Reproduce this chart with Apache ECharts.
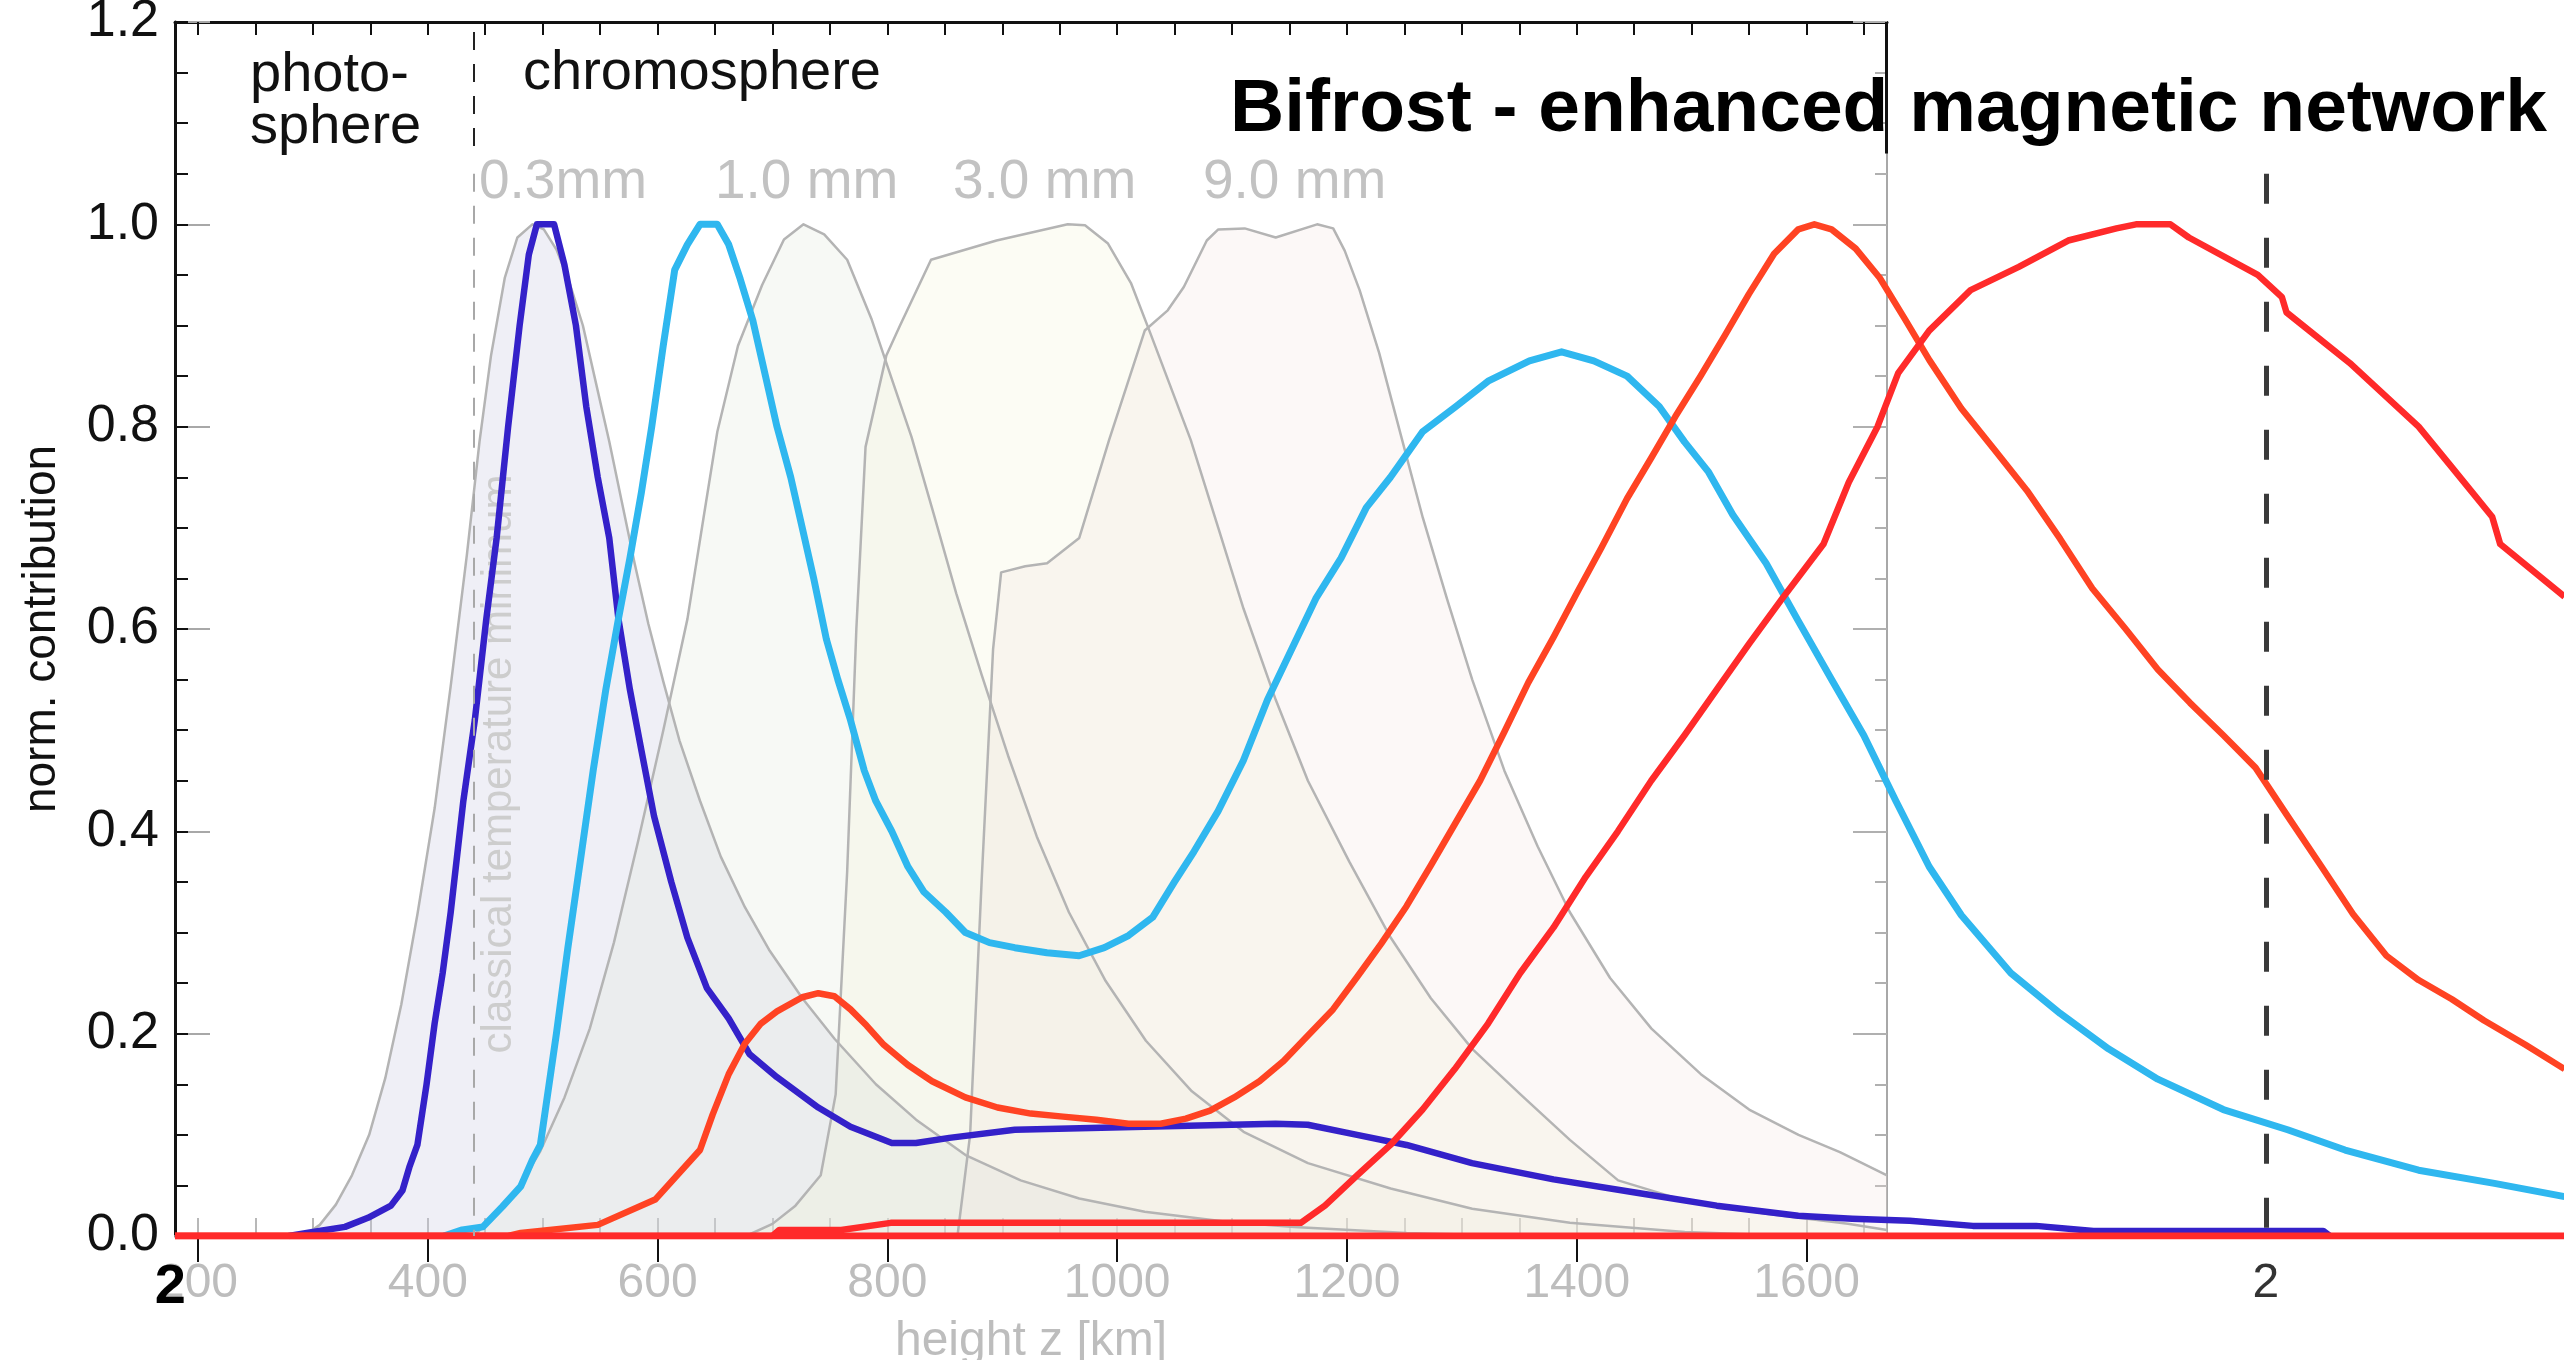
<!DOCTYPE html>
<html>
<head>
<meta charset="utf-8">
<script src="https://cdn.jsdelivr.net/npm/echarts@6/dist/echarts.min.js"></script>
<style>
  html, body { margin: 0; padding: 0; background: #ffffff; }
  #chart { width: 2564px; height: 1360px; }
</style>
</head>
<body>
<div id="chart"></div>
<script>
// ---- axis ticks and labels (height in km, normalised contribution) ----
const kmLabels = [200, 400, 600, 800, 1000, 1200, 1400, 1600];
const kmMinorTicks = [200, 250, 300, 350, 400, 450, 500, 550, 600, 650, 700, 750, 800, 850,
  900, 950, 1000, 1050, 1100, 1150, 1200, 1250, 1300, 1350, 1400, 1450, 1500, 1550, 1600, 1650];
const overlayTickValues = [176, 2000];          // the "2" marks of the Bifrost panel
const tempMinHeight = 440;                      // classical temperature minimum [km]
const overlayMarkHeight = 2000;                 // dashed marker in the Bifrost panel [km]
const panelRightEdge = 1670;

// ---- grey contribution functions (semi-empirical model), [km, value] ----
const wavelengthLabels = ['0.3mm', '1.0 mm', '3.0 mm', '9.0 mm'];
const cf03 = [[292,0],[306,0.011],[320,0.031],[334,0.06],[349,0.10],[363,0.156],[377,0.229],[391,0.318],
  [406,0.423],[420,0.544],[434,0.673],[445,0.785],[455,0.87],[467,0.947],[478,0.987],[491,1.0],[501,0.995],
  [512,0.975],[524,0.94],[535,0.9],[546,0.845],[558,0.785],[569,0.725],[580,0.665],[592,0.605],[605,0.548],
  [619,0.49],[637,0.43],[655,0.375],[676,0.325],[697,0.283],[726,0.235],[754,0.195],[790,0.15],[825,0.115],
  [868,0.08],[916,0.055],[967,0.037],[1024,0.024],[1095,0.014],[1154,0.009],[1252,0.003],[1351,0]];
const cf10 = [[439,0],[455,0.015],[477,0.044],[498,0.084],[519,0.137],[541,0.205],[562,0.29],[583,0.39],
  [605,0.5],[626,0.61],[640,0.71],[652,0.795],[670,0.88],[691,0.94],[710,0.985],[727,1.0],[745,0.99],
  [765,0.965],[786,0.907],[803,0.85],[821,0.79],[840,0.715],[860,0.635],[882,0.555],[905,0.475],[930,0.395],
  [958,0.32],[990,0.252],[1025,0.193],[1065,0.143],[1110,0.103],[1166,0.072],[1238,0.047],[1309,0.027],
  [1394,0.013],[1494,0.004],[1593,0]];
const cf30 = [[677,0],[700,0.012],[720,0.03],[742,0.06],[755,0.14],[765,0.36],[773,0.6],[781,0.78],
  [799,0.87],[811,0.9],[838,0.965],[895,0.984],[957,1.0],[972,0.999],[992,0.981],[1012,0.942],[1029,0.892],
  [1064,0.787],[1088,0.70],[1110,0.62],[1138,0.53],[1166,0.45],[1202,0.37],[1238,0.295],[1273,0.235],
  [1309,0.185],[1351,0.14],[1394,0.095],[1436,0.055],[1494,0.035],[1565,0.022],[1636,0.012],[1670,0.006]];
const cf90 = [[861,0],[872,0.1],[882,0.35],[892,0.58],[899,0.656],[920,0.662],[939,0.665],[967,0.69],
  [993,0.787],[1024,0.895],[1044,0.915],[1058,0.938],[1078,0.984],[1088,0.995],[1111,0.996],[1138,0.987],
  [1174,1.0],[1188,0.996],[1198,0.974],[1211,0.935],[1228,0.873],[1248,0.787],[1266,0.71],[1287,0.63],
  [1309,0.55],[1337,0.46],[1366,0.385],[1394,0.32],[1429,0.255],[1465,0.205],[1508,0.16],[1550,0.125],
  [1593,0.1],[1629,0.083],[1670,0.06]];

// ---- Bifrost enhanced-network contribution functions, [km, value] ----
const bifrost03 = [[279,0],[300,0.004],[328,0.009],[348,0.018],[368,0.03],[378,0.045],[384,0.068],[391,0.09],
  [399,0.15],[406,0.21],[413,0.26],[420,0.32],[431,0.43],[441,0.51],[451,0.61],[460,0.69],[470,0.80],
  [480,0.90],[488,0.97],[495,1.0],[510,1.0],[519,0.96],[529,0.90],[538,0.82],[548,0.75],[558,0.69],
  [566,0.61],[576,0.54],[586,0.48],[597,0.415],[612,0.35],[626,0.295],[643,0.245],[662,0.215],[680,0.18],
  [704,0.157],[740,0.127],[768,0.108],[804,0.092],[825,0.092],[854,0.097],[911,0.105],[1024,0.108],
  [1138,0.111],[1166,0.11],[1209,0.10],[1252,0.09],[1309,0.072],[1380,0.056],[1451,0.043],[1522,0.03],
  [1593,0.02],[1640,0.017],[1690,0.015],[1745,0.01],[1800,0.01],[1850,0.005],[2050,0.005],[2056,0]];
const bifrost10 = [[414,0],[430,0.006],[448,0.009],[465,0.029],[481,0.049],[491,0.075],[498,0.09],
  [512,0.2],[522,0.285],[534,0.38],[544,0.46],[555,0.54],[566,0.61],[576,0.67],[586,0.735],[595,0.80],
  [605,0.88],[615,0.955],[626,0.98],[637,1.0],[652,1.0],[662,0.98],[672,0.946],[683,0.905],[694,0.85],
  [704,0.80],[716,0.75],[726,0.70],[736,0.65],[747,0.59],[757,0.55],[768,0.51],[780,0.46],[790,0.43],
  [804,0.40],[818,0.365],[832,0.34],[851,0.32],[868,0.30],[889,0.29],[911,0.285],[939,0.28],[967,0.277],
  [989,0.285],[1010,0.297],[1031,0.315],[1050,0.35],[1067,0.38],[1088,0.42],[1110,0.47],[1131,0.53],
  [1152,0.58],[1173,0.63],[1195,0.67],[1217,0.72],[1238,0.75],[1266,0.795],[1295,0.82],[1323,0.845],
  [1359,0.865],[1387,0.874],[1415,0.865],[1444,0.85],[1472,0.82],[1494,0.785],[1515,0.755],[1536,0.713],
  [1565,0.665],[1593,0.608],[1622,0.55],[1650,0.495],[1678,0.43],[1707,0.365],[1735,0.317],[1778,0.26],
  [1821,0.22],[1863,0.185],[1906,0.155],[1963,0.125],[2019,0.105],[2069,0.085],[2133,0.065],[2199,0.052],
  [2260,0.039]];
const bifrost30 = [[180,0],[470,0],[481,0.003],[548,0.011],[598,0.036],[637,0.085],[648,0.12],[662,0.16],
  [676,0.19],[690,0.21],[704,0.222],[726,0.236],[740,0.24],[754,0.237],[768,0.224],[782,0.208],[797,0.189],
  [818,0.169],[839,0.153],[868,0.137],[896,0.127],[925,0.121],[953,0.118],[982,0.115],[1010,0.111],
  [1038,0.111],[1060,0.116],[1081,0.124],[1102,0.137],[1124,0.153],[1145,0.173],[1166,0.198],[1188,0.224],
  [1209,0.256],[1230,0.289],[1252,0.326],[1273,0.366],[1294,0.407],[1316,0.45],[1337,0.498],[1358,0.547],
  [1380,0.592],[1401,0.637],[1422,0.681],[1444,0.729],[1465,0.769],[1486,0.81],[1508,0.85],[1529,0.89],
  [1550,0.931],[1572,0.971],[1593,0.995],[1607,1.0],[1622,0.995],[1643,0.976],[1664,0.947],[1686,0.906],
  [1707,0.866],[1735,0.818],[1764,0.777],[1792,0.737],[1821,0.689],[1849,0.64],[1878,0.6],[1906,0.56],
  [1934,0.527],[1963,0.495],[1991,0.463],[2019,0.415],[2048,0.366],[2076,0.318],[2105,0.277],[2133,0.253],
  [2162,0.234],[2190,0.213],[2226,0.189],[2260,0.165]];
const bifrost90 = [[180,0],[700,0],[706,0.006],[760,0.006],[803,0.013],[1160,0.013],[1181,0.03],[1209,0.06],
  [1238,0.09],[1266,0.125],[1294,0.165],[1323,0.21],[1351,0.26],[1380,0.305],[1408,0.355],[1436,0.40],
  [1465,0.45],[1494,0.495],[1522,0.54],[1550,0.585],[1579,0.63],[1615,0.684],[1637,0.745],[1662,0.80],
  [1680,0.853],[1707,0.895],[1743,0.935],[1785,0.958],[1828,0.984],[1870,0.996],[1887,1.0],[1917,1.0],
  [1933,0.987],[1993,0.95],[2014,0.928],[2018,0.913],[2073,0.863],[2133,0.80],[2159,0.764],[2197,0.711],
  [2204,0.684],[2260,0.632]];
const bifrostBase = [[180,0],[2260,0]];

const FONT = 'Liberation Sans, Arial, Helvetica, sans-serif';
const chart = echarts.init(document.getElementById('chart'), null, { renderer: 'canvas' });

const panelGrid = { left: 175, top: 22, width: 1712, height: 1214, outerBoundsMode: 'none', containLabel: false };

function greyCurve(data, fill, extra) {
  return Object.assign({
    type: 'line', xAxisIndex: 0, yAxisIndex: 0, data: data,
    showSymbol: false, smooth: false, z: 1, silent: true,
    lineStyle: { color: '#b4b4b4', width: 2.5, join: 'round' },
    areaStyle: { color: fill, origin: 'start' }
  }, extra || {});
}
function bifrostCurve(data, color, width, extra) {
  return Object.assign({
    type: 'line', xAxisIndex: 2, yAxisIndex: 2, data: data,
    showSymbol: false, z: 3, silent: true,
    lineStyle: { color: color, width: width, join: 'round' }
  }, extra || {});
}
const noLabel = { show: false };

const option = {
  animation: false,
  backgroundColor: '#ffffff',
  grid: [
    Object.assign({}, panelGrid),
    { left: 163.5, top: 22, width: 2401, height: 1214, outerBoundsMode: 'none', containLabel: false },
    Object.assign({}, panelGrid)
  ],
  xAxis: [
    { // bottom axis of the grey panel
      gridIndex: 0, type: 'value', min: 180, max: panelRightEdge, position: 'bottom',
      axisLine: { show: true, onZero: false, lineStyle: { color: '#b0b0b0', width: 2 } },
      axisTick: { show: true, inside: true, length: 18, customValues: kmMinorTicks,
        lineStyle: { color: '#b8b8b8', width: 2 } },
      axisLabel: { show: true, customValues: kmLabels, margin: 24, color: '#bdbdbd',
        fontSize: 48, fontFamily: FONT, formatter: v => String(v) },
      splitLine: { show: false },
      name: 'height z [km]', nameLocation: 'middle', nameGap: 82,
      nameTextStyle: { color: '#bdbdbd', fontSize: 48, fontFamily: FONT }
    },
    { // top axis, minor ticks
      gridIndex: 0, type: 'value', min: 180, max: panelRightEdge, position: 'top',
      axisLine: { show: true, onZero: false, lineStyle: { color: '#111', width: 3 } },
      axisTick: { show: true, inside: true, length: 13, customValues: kmMinorTicks,
        lineStyle: { color: '#111', width: 2 } },
      axisLabel: noLabel, splitLine: { show: false }
    },
    { // Bifrost panel axis
      gridIndex: 1, type: 'value', min: 170, max: 2260, position: 'bottom',
      axisLine: { show: false }, axisTick: { show: false }, splitLine: { show: false },
      axisLabel: {
        show: true, customValues: overlayTickValues, margin: 24,
        fontSize: 48, color: '#333', fontFamily: FONT,
        formatter: v => (v < 1000 ? '{b|2}' : '2'),
        rich: {
          b: { fontSize: 56, fontWeight: 'bold', color: '#000', fontFamily: FONT }
        }
      }
    },
    { // top axis, major ticks
      gridIndex: 2, type: 'value', min: 180, max: panelRightEdge, position: 'top',
      axisLine: { show: false },
      axisTick: { show: true, inside: true, length: 26, customValues: kmLabels,
        lineStyle: { color: '#111', width: 2 } },
      axisLabel: noLabel, splitLine: { show: false }
    }
  ],
  yAxis: [
    {
      gridIndex: 0, type: 'value', min: 0, max: 1.2, interval: 0.2, position: 'left',
      axisLine: { show: true, onZero: false, lineStyle: { color: '#111', width: 3 } },
      axisTick: { show: true, inside: true, length: 35, lineStyle: { color: '#a8a8a8', width: 2 } },
      axisLabel: { show: true, margin: 16, color: '#111', fontSize: 52, fontFamily: FONT,
        formatter: v => v.toFixed(1) },
      splitLine: { show: false },
      name: 'norm. contribution', nameLocation: 'middle', nameRotate: 90, nameGap: 110,
      nameTextStyle: { color: '#111', fontSize: 46, fontFamily: FONT }
    },
    {
      gridIndex: 0, type: 'value', min: 0, max: 1.2, interval: 0.2, position: 'right',
      axisLine: { show: true, onZero: false, lineStyle: { color: '#a8a8a8', width: 2 } },
      axisTick: { show: true, inside: true, length: 34, lineStyle: { color: '#b0b0b0', width: 2 } },
      minorTick: { show: true, splitNumber: 4, length: 12, lineStyle: { color: '#b0b0b0', width: 2 } },
      axisLabel: noLabel, splitLine: { show: false }, minorSplitLine: { show: false }
    },
    { gridIndex: 1, type: 'value', min: 0, max: 1.2, show: false },
    {
      gridIndex: 2, type: 'value', min: 0, max: 1.2, interval: 0.05, position: 'left',
      axisLine: { show: false },
      axisTick: { show: true, inside: true, length: 13, lineStyle: { color: '#111', width: 2 } },
      axisLabel: noLabel, splitLine: { show: false }
    }
  ],
  graphic: [
    { type: 'text', x: 250, y: 76, z: 10,
      style: { text: 'photo-', fill: '#111', font: '56px ' + FONT, align: 'left', verticalAlign: 'middle' } },
    { type: 'text', x: 250, y: 128, z: 10,
      style: { text: 'sphere', fill: '#111', font: '56px ' + FONT, align: 'left', verticalAlign: 'middle' } },
    { type: 'text', x: 523, y: 74, z: 10,
      style: { text: 'chromosphere', fill: '#111', font: '56px ' + FONT, align: 'left', verticalAlign: 'middle' } },
    { type: 'text', x: 479, y: 183, z: 10,
      style: { text: wavelengthLabels[0], fill: '#c2c2c2', font: '55px ' + FONT, align: 'left', verticalAlign: 'middle' } },
    { type: 'text', x: 715, y: 183, z: 10,
      style: { text: wavelengthLabels[1], fill: '#c2c2c2', font: '55px ' + FONT, align: 'left', verticalAlign: 'middle' } },
    { type: 'text', x: 953, y: 183, z: 10,
      style: { text: wavelengthLabels[2], fill: '#c2c2c2', font: '55px ' + FONT, align: 'left', verticalAlign: 'middle' } },
    { type: 'text', x: 1203, y: 183, z: 10,
      style: { text: wavelengthLabels[3], fill: '#c2c2c2', font: '55px ' + FONT, align: 'left', verticalAlign: 'middle' } },
    { type: 'text', x: 499, y: 764, z: 1.5, rotation: Math.PI / 2,
      style: { text: 'classical temperature minimum', fill: '#cdcdcd', font: '42px ' + FONT,
        align: 'center', verticalAlign: 'middle' } },
    { type: 'text', x: 1230, y: 110, z: 10,
      style: { text: 'Bifrost - enhanced magnetic network', fill: '#000',
        font: 'bold 75px ' + FONT, align: 'left', verticalAlign: 'middle' } }
  ],
  series: [
    greyCurve(cf03, 'rgba(205,205,228,0.45)', {
      markLine: {
        silent: true, symbol: ['none', 'none'], label: { show: false },
        data: [
          [{ coord: [tempMinHeight, 1.19], lineStyle: { color: '#222', width: 2, type: [18, 14] } },
           { coord: [tempMinHeight, 1.07] }],
          [{ coord: [tempMinHeight, 1.05], lineStyle: { color: '#a8a8a8', width: 2, type: [18, 14] } },
           { coord: [tempMinHeight, 0] }]
        ]
      }
    }),
    greyCurve(cf10, 'rgba(222,230,214,0.35)'),
    greyCurve(cf30, 'rgba(246,246,216,0.4)'),
    greyCurve(cf90, 'rgba(243,228,222,0.35)'),
    bifrostCurve(bifrost03, '#3421c9', 6.5),
    bifrostCurve(bifrost10, '#2fb7ef', 7),
    bifrostCurve(bifrost30, '#ff4323', 6.5),
    bifrostCurve(bifrost90, '#ff2a2a', 6.5),
    bifrostCurve(bifrostBase, '#ff2a2a', 7, {
      markLine: {
        silent: true, symbol: ['none', 'none'], label: { show: false },
        data: [
          [{ coord: [overlayMarkHeight, 1.05], lineStyle: { color: '#3a3a3a', width: 5, type: [30, 34] } },
           { coord: [overlayMarkHeight, 0] }],
          [{ coord: [panelRightEdge, 1.2], lineStyle: { color: '#111', width: 3, type: 'solid' } },
           { coord: [panelRightEdge, 1.07] }]
        ]
      }
    })
  ]
};

chart.setOption(option);
</script>
</body>
</html>
